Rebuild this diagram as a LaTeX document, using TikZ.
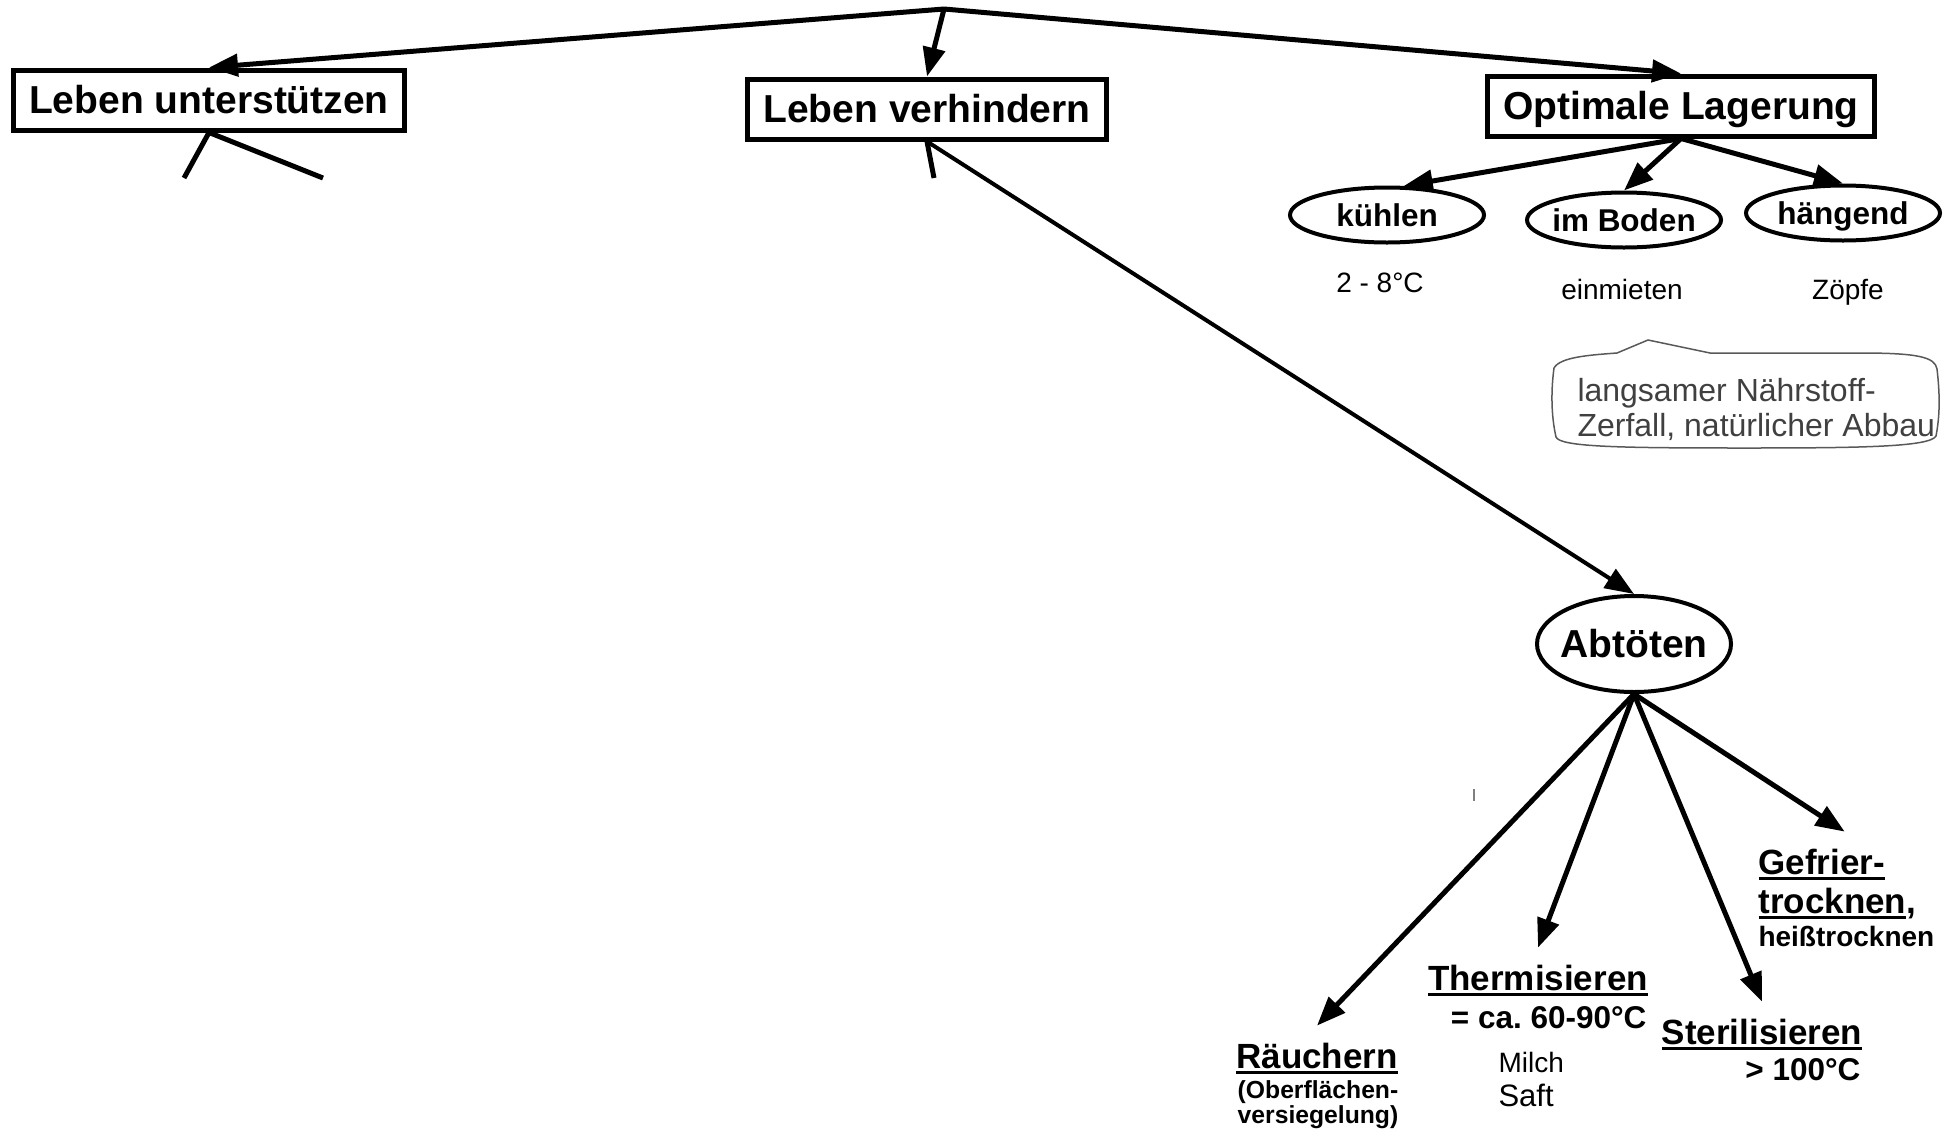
\documentclass[tikz,border=0pt]{standalone}
\usepackage{fontspec}
\setmainfont{Liberation Sans}
\usepackage{tikz}
\usetikzlibrary{arrows.meta,positioning,shapes.geometric}

\newsavebox{\ulsave}
\newcommand{\ulword}[1]{\sbox{\ulsave}{#1}\rlap{\rule[-6pt]{\wd\ulsave}{3pt}}\usebox{\ulsave}}

\begin{document}
\begin{tikzpicture}[x=1pt,y=-1pt,line width=5pt,>={Triangle[length=29pt,width=22pt]},
  every node/.style={inner sep=0pt},
  mainbox/.style={draw,inner xsep=16pt,minimum height=60pt,
    font=\bfseries\fontsize{39}{44}\selectfont,text height=35.7pt,text depth=7.8pt},
  oval/.style={draw,ellipse,line width=4pt,inner xsep=-8pt,minimum width=194pt,minimum height=55pt,
    font=\bfseries\fontsize{31.5}{36}\selectfont,text height=28.9pt,text depth=6.3pt},
  bigoval/.style={oval,minimum height=96pt,
    font=\bfseries\fontsize{39}{44}\selectfont,text height=35.7pt,text depth=7.8pt},
  method/.style={font=\bfseries\fontsize{35}{40}\selectfont,outer ysep=17pt},
  detail/.style={font=\bfseries\fontsize{31.5}{36}\selectfont},
  note/.style={font=\fontsize{28}{32}\selectfont},
  minor/.style={font=\bfseries\fontsize{24.7}{28}\selectfont},
  bubble/.style={font=\fontsize{32}{35}\selectfont,text=black!75}]
  \useasboundingbox (0,0) rectangle (1947,1133);
  \coordinate (top) at (944,9);
  % drei Hauptzweige
  \node[mainbox] (unterst) at (209,100) {Leben unterstützen};
  \node[mainbox] (verhind) at (927,109) {Leben verhindern};
  \node[mainbox] (lager) at (1681,106) {Optimale Lagerung};
  \draw[->] (top) -- (unterst.north);
  \draw[->] (top) -- (verhind.north);
  \draw[->] (top) -- (lager.north);
  % abgeschnittene Zweige
  \coordinate (cutA) at (184,178);
  \coordinate (cutB) at (323,178);
  \coordinate (cutC) at (934,178);
  \draw (unterst.south) -- (cutA);
  \draw (unterst.south) -- (cutB);
  \draw (verhind.south) -- (cutC);
  % Lagerung
  \node[oval] (kuehlen) at (1387,215) {kühlen};
  \node[oval] (boden) at (1624,220) {im Boden};
  \node[oval] (haengend) at (1843,213) {hängend};
  \draw[->] (lager.south) -- (kuehlen.60);
  \draw[->] (lager.south) -- (boden.north);
  \draw[->] (lager.south) -- (haengend.north);
  \node[note,anchor=base] (temp) at (1380,292) {2 - 8°C};
  \node[note,anchor=base] (mieten) at (1622,299) {einmieten};
  \node[note,anchor=base] (zoepfe) at (1848,299) {Zöpfe};
  % Sprechblase
  \draw[line width=1.5pt,black!65] (1554,368) .. controls (1560,357) and (1590,355) .. (1617,353)
    -- (1648,340) -- (1710,353) -- (1860,353)
    .. controls (1918,353) and (1935,357) .. (1937,369)
    .. controls (1940,395) and (1940,415) .. (1936,436)
    .. controls (1930,447) and (1860,448) .. (1745,448)
    .. controls (1620,448) and (1560,447) .. (1556,437)
    .. controls (1551,415) and (1551,390) .. cycle;
  \node[bubble,anchor=base west] (bubA) at (1575,401) {langsamer Nährstoff-};
  \node[bubble,anchor=base west] (bubB) at (1575,436) {Zerfall, natürlicher Abbau};
  % Abtöten
  \node[bigoval] (abtoeten) at (1634,644) {Abtöten};
  \draw[->,line width=4pt] (verhind.south) -- (abtoeten.north);
  \node[method,anchor=base] (raeuchern) at (1317,1068) {\ulword{Räuchern}};
  \node[minor,anchor=base] (oberfl) at (1318,1098) {(Oberflächen-};
  \node[minor,anchor=base] (versieg) at (1318,1123) {versiegelung)};
  \node[method,anchor=base] (thermi) at (1538,990) {\ulword{Thermisieren}};
  \node[detail,anchor=base east] (thermiT) at (1649,1028) {= ca.\ 60-90°C};
  \node[note,anchor=base west] (milch) at (1496,1072) {Milch};
  \node[note,font=\fontsize{31}{35}\selectfont,anchor=base west] (saft) at (1496,1106) {Saft};
  \node[method,anchor=base] (steril) at (1762,1044) {\ulword{Sterilisieren}};
  \node[detail,anchor=base east] (sterilT) at (1863,1080) {> 100°C};
  \node[method,anchor=base west] (gefrier) at (1756,874) {\ulword{Gefrier-}};
  \node[method,anchor=base west] (trocknen) at (1756,913) {\ulword{trocknen},};
  \node[minor,font=\bfseries\fontsize{28}{32}\selectfont,anchor=base west] (heiss) at (1756,946) {heißtrocknen};
  \draw[->] (abtoeten.south) -- (raeuchern.north);
  \draw[->] (abtoeten.south) -- (thermi.north);
  \draw[->] (abtoeten.south) -- (steril.north);
  \draw[->] (abtoeten.south) -- ([xshift=23pt]gefrier.north);
  \draw[line width=2pt,black!50] (1474,789) -- (1474,801);
\end{tikzpicture}
\end{document}
